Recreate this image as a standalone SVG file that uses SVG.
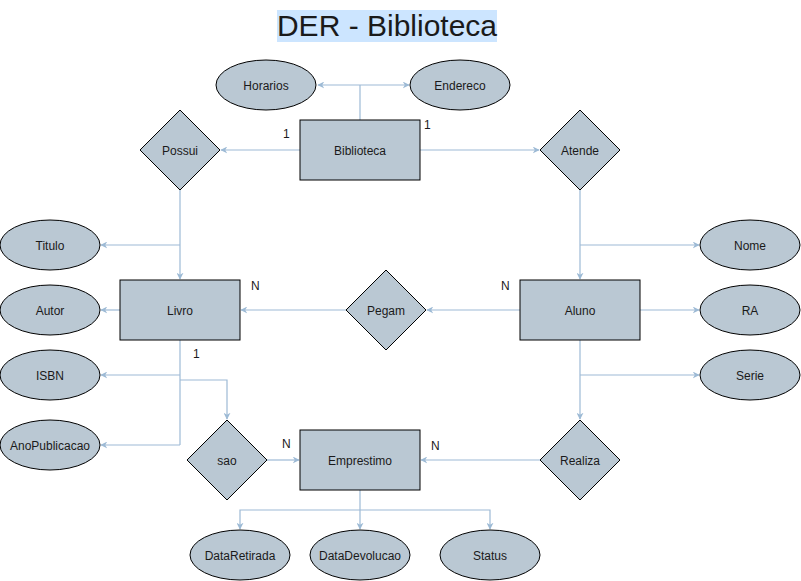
<svg xmlns="http://www.w3.org/2000/svg" width="801" height="581" viewBox="0 0 801 581">
<defs>
<marker id="arr" viewBox="0 0 10 10" refX="9" refY="5" markerWidth="7" markerHeight="7" orient="auto" markerUnits="userSpaceOnUse">
<path d="M0,0 L10,5 L0,10 L3,5 z" fill="#9DBAD5"/>
</marker>
<style>
.s{fill:#BAC8D3;stroke:#000;stroke-width:1}
.t{font-family:"Liberation Sans",Arial,sans-serif;font-size:12px;fill:#1a1a1a;text-anchor:middle}
.l{font-family:"Liberation Sans",Arial,sans-serif;font-size:12px;fill:#1a1a1a}
.c{fill:none;stroke:#9DBAD5;stroke-width:1.2}
.a{marker-end:url(#arr)}
</style>
</defs>
<rect width="801" height="581" fill="#fff"/>
<g id="title">
<rect x="277" y="10" width="220" height="32" fill="#CCE5FF"/>
<text x="387" y="36" font-family="Liberation Sans, Arial, sans-serif" font-size="30" fill="#1a1a1a" text-anchor="middle">DER - Biblioteca</text>
</g>
<g id="connectors">
<path class="c" d="M360,120 V85"/>
<path class="c a" d="M360,85 H318"/>
<path class="c a" d="M360,85 H409"/>
<path class="c a" d="M300,150 H221"/>
<path class="c a" d="M420,150 H539"/>
<path class="c a" d="M180,190 V279"/>
<path class="c a" d="M180,245 H101"/>
<path class="c a" d="M120,310 H101"/>
<path class="c" d="M180,340 V445"/>
<path class="c a" d="M180,375 H101"/>
<path class="c a" d="M180,445 H101"/>
<path class="c a" d="M180,380 H227 V419"/>
<path class="c a" d="M267,460 H299"/>
<path class="c a" d="M540,460 H421"/>
<path class="c" d="M360,490 V510"/>
<path class="c a" d="M360,510 H240 V529"/>
<path class="c a" d="M360,510 V529"/>
<path class="c a" d="M360,510 H490 V529"/>
<path class="c a" d="M580,190 V279"/>
<path class="c a" d="M580,245 H699"/>
<path class="c a" d="M640,310 H699"/>
<path class="c a" d="M580,340 V419"/>
<path class="c a" d="M580,375 H699"/>
<path class="c a" d="M520,310 H427"/>
<path class="c a" d="M346,310 H241"/>
</g>
<g id="labels">
<text class="l" x="283" y="138">1</text>
<text class="l" x="424" y="129">1</text>
<text class="l" x="251" y="290">N</text>
<text class="l" x="193" y="358">1</text>
<text class="l" x="501" y="290">N</text>
<text class="l" x="282" y="448">N</text>
<text class="l" x="431" y="450">N</text>
</g>
<g id="Biblioteca"><rect class="s" x="300" y="120" width="120" height="60"/><text class="t" x="360" y="155">Biblioteca</text></g>
<g id="Horarios"><ellipse class="s" cx="266" cy="85" rx="50" ry="25"/><text class="t" x="266" y="90">Horarios</text></g>
<g id="Endereco"><ellipse class="s" cx="460" cy="85" rx="50" ry="25"/><text class="t" x="460" y="90">Endereco</text></g>
<g id="Possui"><path class="s" d="M180,110 L220,150 L180,190 L140,150 Z"/><text class="t" x="180" y="155">Possui</text></g>
<g id="Atende"><path class="s" d="M580,110 L620,150 L580,190 L540,150 Z"/><text class="t" x="580" y="155">Atende</text></g>
<g id="Titulo"><ellipse class="s" cx="50" cy="245" rx="50" ry="25"/><text class="t" x="50" y="250">Titulo</text></g>
<g id="Autor"><ellipse class="s" cx="50" cy="310" rx="50" ry="25"/><text class="t" x="50" y="315">Autor</text></g>
<g id="ISBN"><ellipse class="s" cx="50" cy="375" rx="50" ry="25"/><text class="t" x="50" y="380">ISBN</text></g>
<g id="AnoPublicacao"><ellipse class="s" cx="50" cy="445" rx="50" ry="25"/><text class="t" x="50" y="450">AnoPublicacao</text></g>
<g id="Livro"><rect class="s" x="120" y="280" width="120" height="60"/><text class="t" x="180" y="315">Livro</text></g>
<g id="Pegam"><path class="s" d="M386,270 L426,310 L386,350 L346,310 Z"/><text class="t" x="386" y="315">Pegam</text></g>
<g id="Aluno"><rect class="s" x="520" y="280" width="120" height="60"/><text class="t" x="580" y="315">Aluno</text></g>
<g id="Nome"><ellipse class="s" cx="750" cy="245" rx="50" ry="25"/><text class="t" x="750" y="250">Nome</text></g>
<g id="RA"><ellipse class="s" cx="750" cy="310" rx="50" ry="25"/><text class="t" x="750" y="315">RA</text></g>
<g id="Serie"><ellipse class="s" cx="750" cy="375" rx="50" ry="25"/><text class="t" x="750" y="380">Serie</text></g>
<g id="sao"><path class="s" d="M227,420 L267,460 L227,500 L187,460 Z"/><text class="t" x="227" y="465">sao</text></g>
<g id="Emprestimo"><rect class="s" x="300" y="430" width="120" height="60"/><text class="t" x="360" y="465">Emprestimo</text></g>
<g id="Realiza"><path class="s" d="M580,420 L620,460 L580,500 L540,460 Z"/><text class="t" x="580" y="465">Realiza</text></g>
<g id="DataRetirada"><ellipse class="s" cx="240" cy="555" rx="50" ry="25"/><text class="t" x="240" y="560">DataRetirada</text></g>
<g id="DataDevolucao"><ellipse class="s" cx="360" cy="555" rx="50" ry="25"/><text class="t" x="360" y="560">DataDevolucao</text></g>
<g id="Status"><ellipse class="s" cx="490" cy="555" rx="50" ry="25"/><text class="t" x="490" y="560">Status</text></g>
</svg>
